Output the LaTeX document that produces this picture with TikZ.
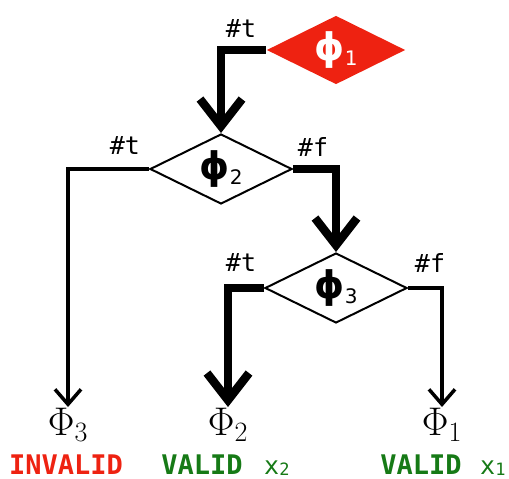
\RequirePackage{fix-cm}
\documentclass[tikz,border=0pt]{standalone}
\usepackage{fontspec}
\usetikzlibrary{shapes.geometric, arrows.meta}
\newfontfamily\codefont{DejaVu Sans Mono}
\newfontfamily\greekfont{DejaVu Sans}
\definecolor{flagred}{RGB}{238,34,17}
\definecolor{okgreen}{RGB}{22,122,22}
% test symbol with its index, boxed to zero size so the diamond keeps its own size
\newcommand{\testsym}[1]{\smash{\makebox[0pt]{\raisebox{-10pt}{ϕ\raisebox{-5pt}{\mdseries\fontsize{20}{20}\selectfont #1}}}}}
\newcommand{\vidx}[1]{\raisebox{-1pt}{\fontsize{17}{17}\selectfont #1}}

\begin{document}
\begin{tikzpicture}[x=1pt,y=-1pt,
  test/.style={diamond, draw, line width=2pt, minimum width=142pt,
    minimum height=70pt, inner sep=0pt,
    font=\greekfont\bfseries\fontsize{38}{38}\selectfont},
  root/.style={test, draw=none, fill=flagred, text=white,
    minimum width=139pt, minimum height=69pt},
  heavy/.style={line width=8.5pt,
    -{Straight Barb[length=27pt, width=42pt]}},
  light/.style={line width=3.5pt,
    -{Straight Barb[length=15pt, width=26pt]}},
  branch/.style={font=\codefont\fontsize{25}{25}\selectfont, inner sep=0pt},
  result/.style={anchor=north, inner sep=1pt, font=\fontsize{40}{40}\selectfont},
  verdict/.style={anchor=base, inner sep=0pt,
    font=\codefont\bfseries\fontsize{27}{27}\selectfont},
  witness/.style={anchor=base west, inner sep=0pt, text=okgreen,
    font=\codefont\fontsize{25}{25}\selectfont},
]
\useasboundingbox (0,0) rectangle (509,479);

% decision nodes
\node[root] (p1) at (336,50) {\testsym{1}};
\node[test] (p2) at (221,169) {\testsym{2}};
\node[test] (p3) at (336,288) {\testsym{3}};

% outcomes
\node[result] (r3) at (68,407) {$\Phi_3$};
\node[result] (r2) at (228,407) {$\Phi_2$};
\node[result] (r1) at (442,407) {$\Phi_1$};

% branches
\draw[heavy] (p1.west) -| (p2.north);
\draw[light] (p2.west) -| (r3.north);
\draw[heavy] (p2.east) -| (p3.north);
\draw[heavy] (p3.west) -| (r2.north);
\draw[light] (p3.east) -| (r1.north);

% branch labels
\node[branch] (b1) at (241,29) {\#t};
\node[branch] (b2) at (125,146) {\#t};
\node[branch] (b3) at (313,147) {\#f};
\node[branch] (b4) at (241,263) {\#t};
\node[branch] (b5) at (430,263) {\#f};

% verdicts
\node[verdict, text=flagred] (v3) at (66,474) {INVALID};
\node[verdict, text=okgreen] (v2) at (202,474) {VALID};
\node[witness] (w2) at (264,474) {x\vidx{2}};
\node[verdict, text=okgreen] (v1) at (421,474) {VALID};
\node[witness] (w1) at (480,474) {x\vidx{1}};
\end{tikzpicture}
\end{document}
